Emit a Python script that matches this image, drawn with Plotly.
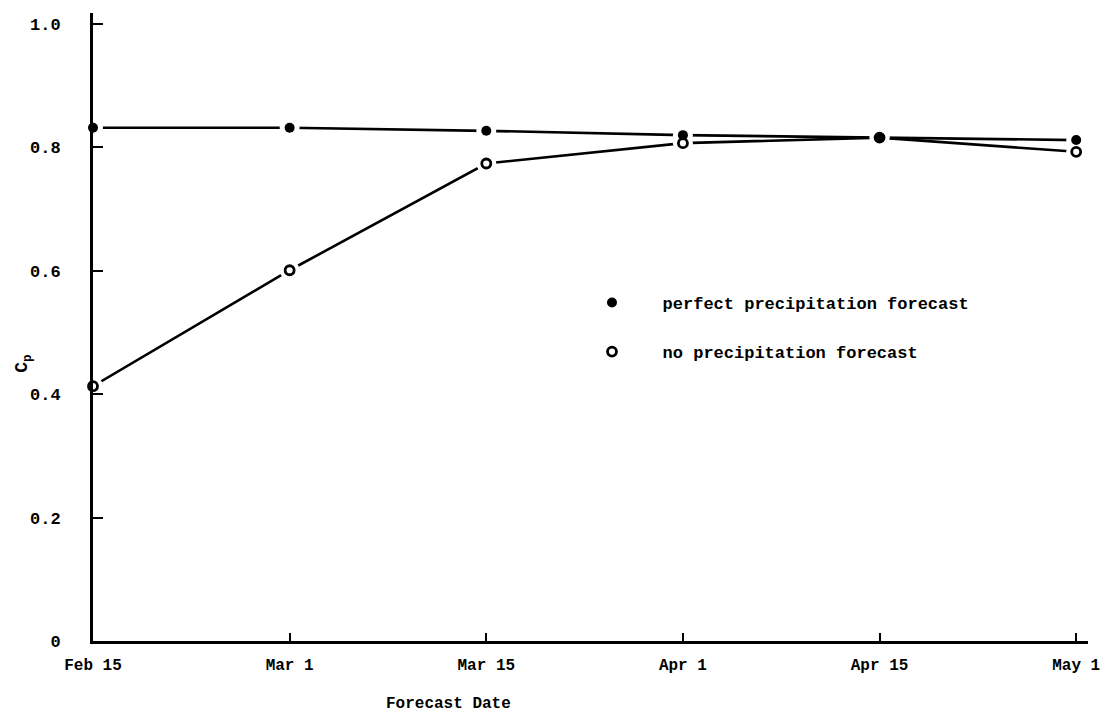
import plotly.graph_objects as go

# Forecast dates and C_p values for the two forecast cases
dates = ["Feb 15", "Mar 1", "Mar 15", "Apr 1", "Apr 15", "May 1"]
cp_perfect = [0.832, 0.832, 0.827, 0.820, 0.816, 0.812]
cp_none = [0.413, 0.601, 0.774, 0.807, 0.816, 0.793]

name_perfect = "perfect precipitation forecast"
name_none = "no precipitation forecast"
y_ticks = [0, 0.2, 0.4, 0.6, 0.8, 1.0]
y_tick_text = ["0", "0.2", "0.4", "0.6", "0.8", "1.0"]

FONT = "Liberation Mono"
INK = "#000000"
pad = "\u00a0" * 3

fig = go.Figure()

# connecting lines
for ys in (cp_perfect, cp_none):
    fig.add_trace(go.Scatter(
        x=dates, y=ys, mode="lines",
        line=dict(color=INK, width=2.6),
        showlegend=False, hoverinfo="skip",
    ))

# white halos open a small gap where each line meets its point
# (axis lines stay drawn above them)
for ys in (cp_perfect, cp_none):
    fig.add_trace(go.Scatter(
        x=dates, y=ys, mode="markers",
        marker=dict(size=20, color="#ffffff", line=dict(width=0)),
        showlegend=False, hoverinfo="skip", cliponaxis=False,
    ))

fig.add_trace(go.Scatter(
    x=dates, y=cp_none, mode="markers", name=pad + name_none,
    legendgroup="b", legendrank=2,
    marker=dict(size=9, color="white", line=dict(color=INK, width=2.8)),
    cliponaxis=False,
))
fig.add_trace(go.Scatter(
    x=dates, y=cp_perfect, mode="markers", name=pad + name_perfect,
    legendgroup="a", legendrank=1,
    marker=dict(size=10, color=INK, line=dict(width=0)),
    cliponaxis=False,
))

fig.update_layout(
    width=1112, height=719,
    margin=dict(l=93, r=12, t=13, b=78),
    paper_bgcolor="white", plot_bgcolor="white",
    font=dict(family=FONT, size=16, color=INK, weight="bold"),
    showlegend=True,
    legend=dict(
        x=0.5015, y=0.567, xanchor="left", yanchor="top",
        bgcolor="rgba(0,0,0,0)", borderwidth=0,
        font=dict(family=FONT, size=17, color=INK, weight="bold"),
        tracegroupgap=24, traceorder="grouped",
    ),
    xaxis=dict(
        type="category", categoryorder="array", categoryarray=dates,
        range=[0, 5.06],
        showgrid=False, zeroline=False,
        showline=True, linecolor=INK, linewidth=3, layer="above traces",
        ticks="inside", ticklen=8, tickwidth=2, tickcolor=INK,
        ticklabelstandoff=7,
        tickfont=dict(family=FONT, size=16, color=INK, weight="bold"),
    ),
    yaxis=dict(
        range=[0, 1.018],
        tickvals=y_ticks, ticktext=y_tick_text,
        showgrid=False, zeroline=False,
        showline=True, linecolor=INK, linewidth=3, layer="above traces",
        ticks="inside", ticklen=10, tickwidth=2, tickcolor=INK,
        ticklabelstandoff=26,
        tickfont=dict(family=FONT, size=17, color=INK, weight="bold"),
    ),
    annotations=[
        dict(
            text="Forecast Date", xref="paper", yref="paper",
            x=0.357, y=-0.1, xanchor="center", yanchor="middle",
            showarrow=False,
            font=dict(family=FONT, size=16, color=INK, weight="bold"),
        ),
        dict(
            text="C<sub>p</sub>", xref="paper", yref="y",
            x=-0.0705, y=0.449, xanchor="center", yanchor="middle",
            textangle=-90, showarrow=False,
            font=dict(family=FONT, size=18, color=INK, weight="bold"),
        ),
    ],
)

fig.write_html("out.html")
